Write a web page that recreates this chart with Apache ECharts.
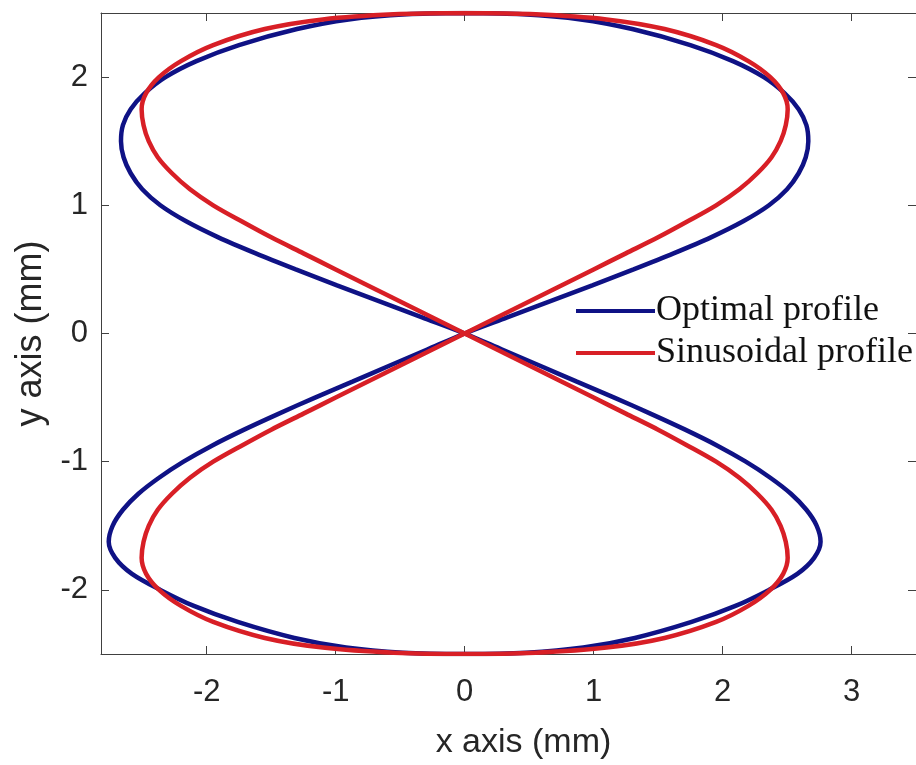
<!DOCTYPE html>
<html>
<head>
<meta charset="utf-8">
<script src="https://cdn.jsdelivr.net/npm/echarts@6/dist/echarts.min.js"></script>
<style>
  html, body { margin: 0; padding: 0; background: #fff; }
  #chart { width: 916px; height: 765px; }
</style>
</head>
<body>
<div id="chart"></div>
<script>
var yLevels = [0, 0.125, 0.25, 0.375, 0.5, 0.625, 0.75, 0.875, 1.0, 1.125, 1.25, 1.375, 1.5,
    1.625, 1.75, 1.875, 2.0, 2.125, 2.25, 2.375, 2.45, 2.49, 2.5];
// |x| of each lobe at those levels (left and right halves read the same)
var optimalTopX = [0, 0.33, 0.66, 0.99, 1.31, 1.62, 1.91, 2.16, 2.36, 2.5, 2.59, 2.645, 2.665,
    2.65, 2.59, 2.48, 2.32, 2.08, 1.75, 1.3, 0.9, 0.45, 0];
var optimalBottomX = [0, 0.29, 0.58, 0.87, 1.16, 1.44, 1.71, 1.96, 2.18, 2.37, 2.53, 2.65, 2.73,
    2.76, 2.71, 2.58, 2.36, 2.1, 1.76, 1.32, 0.92, 0.48, 0];
var sineX = [0, 0.25, 0.5, 0.75, 1.0, 1.25, 1.5, 1.73, 1.95, 2.13, 2.27, 2.38, 2.45,
    2.49, 2.505, 2.47, 2.37, 2.2, 1.95, 1.55, 1.1, 0.55, 0];

var seriesNames = ['Optimal profile', 'Sinusoidal profile'];
var xRange = [-2.82, 3.5];
var yRange = [-2.5, 2.5];

// walk the figure eight: top-right, bottom-left, bottom-right, top-left
function trace(topX, bottomX) {
    var pts = [];
    var n = yLevels.length;
    var i;
    for (i = n - 1; i >= 0; i--) pts.push([topX[i], yLevels[i]]);
    for (i = 1; i < n; i++) pts.push([-bottomX[i], -yLevels[i]]);
    for (i = n - 2; i >= 0; i--) pts.push([bottomX[i], -yLevels[i]]);
    for (i = 1; i < n; i++) pts.push([-topX[i], yLevels[i]]);
    return pts;
}

var axisColor = '#404040';
var textColor = '#262626';
var sansFont = 'Liberation Sans';

var myChart = echarts.init(document.getElementById('chart'));

var option = {
    animation: false,
    backgroundColor: '#fff',
    grid: { left: 101, right: -1, top: 13, bottom: 109 },
    legend: {
        orient: 'vertical',
        left: 571, top: 288,
        icon: 'rect',
        itemWidth: 79, itemHeight: 4, itemGap: 6,
        textStyle: { fontFamily: 'Liberation Serif', fontSize: 36, lineHeight: 36, color: '#111', padding: [0, 0, 0, -4] },
        data: seriesNames
    },
    xAxis: [{
        type: 'value', min: xRange[0], max: xRange[1], splitNumber: 6,
        name: 'x axis (mm)', nameLocation: 'middle', nameGap: 72,
        nameTextStyle: { fontFamily: sansFont, fontSize: 34, color: textColor, padding: [0, 0, 0, 30] },
        axisLine: { onZero: false, lineStyle: { color: axisColor, width: 1 } },
        axisTick: { inside: true, length: 8, lineStyle: { color: axisColor } },
        axisLabel: { fontFamily: sansFont, fontSize: 31, color: textColor, margin: 23, showMinLabel: false, showMaxLabel: false },
        splitLine: { show: false }
    }, {
        type: 'value', position: 'top', min: xRange[0], max: xRange[1], splitNumber: 6,
        axisLine: { onZero: false, lineStyle: { color: axisColor, width: 1 } },
        axisTick: { inside: true, length: 8, lineStyle: { color: axisColor } },
        axisLabel: { show: false },
        splitLine: { show: false }
    }],
    yAxis: [{
        type: 'value', min: yRange[0], max: yRange[1], splitNumber: 5,
        name: 'y axis (mm)', nameLocation: 'middle', nameGap: 48,
        nameTextStyle: { fontFamily: sansFont, fontSize: 36, color: textColor },
        axisLine: { onZero: false, lineStyle: { color: axisColor, width: 1 } },
        axisTick: { inside: true, length: 8, lineStyle: { color: axisColor } },
        axisLabel: { fontFamily: sansFont, fontSize: 31, color: textColor, margin: 13, showMinLabel: false, showMaxLabel: false },
        splitLine: { show: false }
    }, {
        type: 'value', position: 'right', min: yRange[0], max: yRange[1], splitNumber: 5,
        axisLine: { onZero: false, lineStyle: { color: axisColor, width: 1 } },
        axisTick: { inside: true, length: 8, lineStyle: { color: axisColor } },
        axisLabel: { show: false },
        splitLine: { show: false }
    }],
    series: [{
        name: seriesNames[0], type: 'line', symbol: 'none', smooth: 0.3,
        lineStyle: { color: '#0f1285', width: 4.5 },
        itemStyle: { color: '#0f1285' },
        data: trace(optimalTopX, optimalBottomX)
    }, {
        name: seriesNames[1], type: 'line', symbol: 'none', smooth: 0.3,
        lineStyle: { color: '#d81f26', width: 4.5 },
        itemStyle: { color: '#d81f26' },
        data: trace(sineX, sineX)
    }]
};

myChart.setOption(option);
</script>
</body>
</html>
